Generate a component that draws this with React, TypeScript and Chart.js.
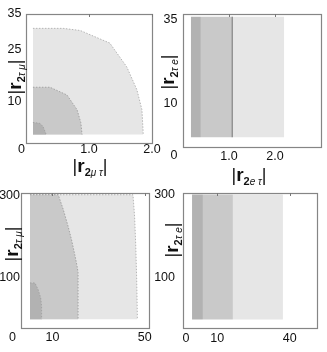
import React, { useEffect, useRef } from "react";
import { Chart, registerables } from "chart.js";

Chart.register(...registerables);

const W = 327;
const H = 352;
const FONT = '"Liberation Sans", Arial, sans-serif';

// ---------- Panel A : |r2 mu tau| vs |r2 tau mu| (small range) ----------
const aXTickValues = [1, 2];
const aXTickLabels = ["1.0", "2.0"];
const aYTickValues = [35, 25, 10];
const aOuterX = [0.11, 0.11, 0.59, 0.86, 1.33, 1.6, 1.76, 1.84, 1.86, 1.86];
const aOuterY = [0.6, 30.9, 30.9, 30.3, 26.7, 19.9, 13.4, 7.7, 1.1, 0.6];
const aMidX = [0.11, 0.11, 0.38, 0.65, 0.81, 0.87, 0.89];
const aMidY = [0.6, 14.1, 14.1, 11.9, 7.7, 4.0, 0.6];
const aInnerX = [0.11, 0.11, 0.22, 0.27, 0.31, 0.32];
const aInnerY = [0.6, 4.06, 3.8, 2.9, 1.1, 0.6];

// ---------- Panel B : |r2 e tau| vs |r2 tau e| (small range) ----------
const bXTickValues = [1, 2];
const bXTickLabels = ["1.0", "2.0"];
const bYTickValues = [35, 10];
const bBandEdges = [0.17, 0.39, 1.07, 2.2];
const bBandTop = 36;
const bLineX = 1.07;

// ---------- Panel C : |r2 mu tau| vs |r2 tau mu| (large range) ----------
const cXTickValues = [10, 50];
const cXTickLabels = ["10", "50"];
const cYTickValues = [300, 100];
const cOuterX = [0.26, 0.26, 44.9, 45.6, 46.1, 46.5, 46.8, 46.8];
const cOuterY = [0, 302, 302, 250, 180, 100, 10, 0];
const cMidX = [0.26, 0.26, 12.5, 14.7, 16.8, 18.3, 19.7, 20.7, 21.1, 21.1];
const cMidY = [0, 302, 302, 266, 225, 192, 156, 128, 113, 0];
const cInnerX = [0.26, 0.26, 2.4, 3.8, 4.9, 5.3, 5.3];
const cInnerY = [0, 88, 88, 71.6, 51.5, 31, 0];

// ---------- Panel D : |r2 e tau| vs |r2 tau e| (large range) ----------
const dXTickValues = [10, 40];
const dXTickLabels = ["10", "40"];
const dYTickValues = [300, 100];
const dBandEdges = [-0.4, 4.1, 16.5, 37.2];
const dBandTop = 300;

const LIGHT = "#e6e6e6";
const MID = "#c9c9c9";
const DARK = "#b2b2b2";

type Part = { t: string; size: number; bold?: boolean; italic?: boolean; dy?: number };

const title = (sub: string): Part[] => [
  { t: "|", size: 18 },
  { t: "r", size: 19, bold: true },
  { t: "2", size: 11, bold: true, dy: 4 },
  { t: sub, size: 10, italic: true, dy: 4 },
  { t: "|", size: 18 },
];

function pts(xs: number[], ys: number[]) {
  return xs.map((x, i) => ({ x, y: ys[i] }));
}

function region(xs: number[], ys: number[], color: string, base: number, order: number, edge = "#a3a3a3") {
  return {
    data: pts(xs, ys),
    backgroundColor: color,
    borderColor: edge,
    borderWidth: 1,
    borderDash: [1.5, 1.5],
    fill: { value: base },
    pointRadius: 0,
    order,
    segment: {
      borderColor: (ctx: any) => (ctx.p0DataIndex === 0 ? "rgba(0,0,0,0)" : undefined),
    },
  };
}

function band(x0: number, x1: number, top: number, color: string, order: number) {
  return {
    data: [
      { x: x0, y: top },
      { x: x1, y: top },
    ],
    backgroundColor: color,
    borderWidth: 0,
    borderColor: "rgba(0,0,0,0)",
    fill: { value: 0 },
    pointRadius: 0,
    order,
  };
}

function fontStr(p: Part) {
  return `${p.italic ? "italic " : ""}${p.bold ? "bold " : ""}${p.size}px ${FONT}`;
}

function drawRich(ctx: CanvasRenderingContext2D, parts: Part[], cx: number, cy: number, rotate: boolean) {
  ctx.save();
  ctx.translate(cx, cy);
  if (rotate) ctx.rotate(-Math.PI / 2);
  let total = 0;
  const widths = parts.map((p) => {
    ctx.font = fontStr(p);
    const w = ctx.measureText(p.t).width;
    total += w;
    return w;
  });
  let x = -total / 2;
  ctx.fillStyle = "#111";
  ctx.textBaseline = "alphabetic";
  ctx.textAlign = "left";
  parts.forEach((p, i) => {
    ctx.font = fontStr(p);
    ctx.fillText(p.t, x, 6 + (p.dy || 0));
    x += widths[i];
  });
  ctx.restore();
}

const decorPlugin = {
  id: "decor",
  afterDraw(chart: any, _args: any, o: any) {
    const ctx: CanvasRenderingContext2D = chart.ctx;
    const a = chart.chartArea;
    const xs = chart.scales.x;
    const ys = chart.scales.y;
    ctx.save();
    // frame
    ctx.strokeStyle = "#858585";
    ctx.lineWidth = 1.2;
    ctx.strokeRect(Math.round(a.left) + 0.5, Math.round(a.top) + 0.5, Math.round(a.right - a.left), Math.round(a.bottom - a.top));
    // small ticks on top edge
    ctx.lineWidth = 1;
    ctx.strokeStyle = "#777";
    (o.xTicks as number[]).forEach((v) => {
      const px = Math.round(xs.getPixelForValue(v)) + 0.5;
      ctx.beginPath();
      ctx.moveTo(px, a.top);
      ctx.lineTo(px, a.top + 3);
      ctx.stroke();
    });
    // tick labels
    ctx.fillStyle = "#111";
    ctx.font = `12.5px ${FONT}`;
    ctx.textBaseline = "middle";
    ctx.textAlign = "center";
    (o.xTicks as number[]).forEach((v, i) => {
      ctx.fillText(o.xLabels[i], xs.getPixelForValue(v), o.xTickY);
    });
    ctx.textAlign = "right";
    (o.yTicks as number[]).forEach((v) => {
      ctx.fillText(String(v), o.yTickRight, ys.getPixelForValue(v));
    });
    ctx.textAlign = "center";
    ctx.fillText("0", o.corner[0], o.corner[1]);
    ctx.restore();
    if (o.xTitle) drawRich(ctx, o.xTitle.parts, o.xTitle.x, o.xTitle.y, false);
    if (o.yTitle) drawRich(ctx, o.yTitle.parts, o.yTitle.x, o.yTitle.y, true);
  },
};

type PanelCfg = {
  frame: [number, number, number, number];
  xRange: [number, number];
  yRange: [number, number];
  datasets: any[];
  decor: any;
};

const panels: PanelCfg[] = [
  {
    frame: [26, 14, 152, 143],
    xRange: [0, 2],
    yRange: [-1.8, 35],
    datasets: [
      region(aInnerX, aInnerY, DARK, 0.6, 1),
      region(aMidX, aMidY, MID, 0.6, 2),
      region(aOuterX, aOuterY, LIGHT, 0.6, 3, "#b5b5b5"),
    ],
    decor: {
      xTicks: aXTickValues,
      xLabels: aXTickLabels,
      yTicks: aYTickValues,
      xTickY: 150,
      yTickRight: 21.5,
      corner: [21.5, 150],
      xTitle: { parts: title("μ τ"), x: 90, y: 166 },
      yTitle: { parts: title("τ μ"), x: 15, y: 77 },
    },
  },
  {
    frame: [183, 14, 321, 147],
    xRange: [0, 3],
    yRange: [-2.9, 36.8],
    datasets: [
      {
        data: [
          { x: bLineX, y: 0 },
          { x: bLineX, y: bBandTop },
        ],
        borderColor: "#6f6f6f",
        borderWidth: 1,
        pointRadius: 0,
        fill: false,
        order: 0,
      },
      band(bBandEdges[0], bBandEdges[1], bBandTop, DARK, 1),
      band(bBandEdges[1], bBandEdges[2], bBandTop, MID, 2),
      band(bBandEdges[2], bBandEdges[3], bBandTop, LIGHT, 3),
    ],
    decor: {
      xTicks: bXTickValues,
      xLabels: bXTickLabels,
      yTicks: bYTickValues,
      xTickY: 157,
      yTickRight: 177.5,
      corner: [174, 156],
      xTitle: { parts: title("e τ"), x: 249, y: 175 },
      yTitle: { parts: title("τ e"), x: 168, y: 72 },
    },
  },
  {
    frame: [21, 193, 149, 328],
    xRange: [-3.63, 51.85],
    yRange: [-21.4, 306.3],
    datasets: [
      region(cInnerX, cInnerY, DARK, 0, 1),
      region(cMidX, cMidY, MID, 0, 2),
      region(cOuterX, cOuterY, LIGHT, 0, 3, "#b5b5b5"),
    ],
    decor: {
      xTicks: cXTickValues,
      xLabels: cXTickLabels,
      yTicks: cYTickValues,
      xTickY: 338,
      yTickRight: 20,
      corner: [12.5, 338],
      yTitle: { parts: title("τ μ"), x: 12, y: 244 },
    },
  },
  {
    frame: [183, 193, 317, 328],
    xRange: [-4.14, 51.3],
    yRange: [-20.4, 303.7],
    datasets: [
      band(dBandEdges[0], dBandEdges[1], dBandTop, DARK, 1),
      band(dBandEdges[1], dBandEdges[2], dBandTop, MID, 2),
      band(dBandEdges[2], dBandEdges[3], dBandTop, LIGHT, 3),
    ],
    decor: {
      xTicks: dXTickValues,
      xLabels: dXTickLabels,
      yTicks: dYTickValues,
      xTickY: 339,
      yTickRight: 175,
      corner: [186, 339],
      yTitle: { parts: title("τ e"), x: 172, y: 240 },
    },
  },
];

function Panel({ cfg }: { cfg: PanelCfg }) {
  const ref = useRef<HTMLCanvasElement>(null);
  useEffect(() => {
    if (!ref.current) return;
    const [l, t, r, b] = cfg.frame;
    const chart = new Chart(ref.current, {
      type: "line",
      data: { datasets: cfg.datasets },
      options: {
        responsive: false,
        animation: false,
        devicePixelRatio: 1,
        layout: { padding: { left: l, top: t, right: W - r, bottom: H - b } },
        scales: {
          x: { type: "linear", min: cfg.xRange[0], max: cfg.xRange[1], display: false },
          y: { type: "linear", min: cfg.yRange[0], max: cfg.yRange[1], display: false },
        },
        elements: { line: { tension: 0 }, point: { radius: 0 } },
        plugins: {
          legend: { display: false },
          tooltip: { enabled: false },
          decor: cfg.decor,
        } as any,
      },
      plugins: [decorPlugin],
    } as any);
    return () => chart.destroy();
  }, [cfg]);
  return (
    <canvas
      ref={ref}
      width={W}
      height={H}
      style={{ position: "absolute", left: 0, top: 0, width: W, height: H }}
    />
  );
}

export default function App() {
  return (
    <div style={{ position: "fixed", left: 0, top: 0, width: W, height: H, background: "#fff" }}>
      {panels.map((p, i) => (
        <Panel key={i} cfg={p} />
      ))}
    </div>
  );
}
